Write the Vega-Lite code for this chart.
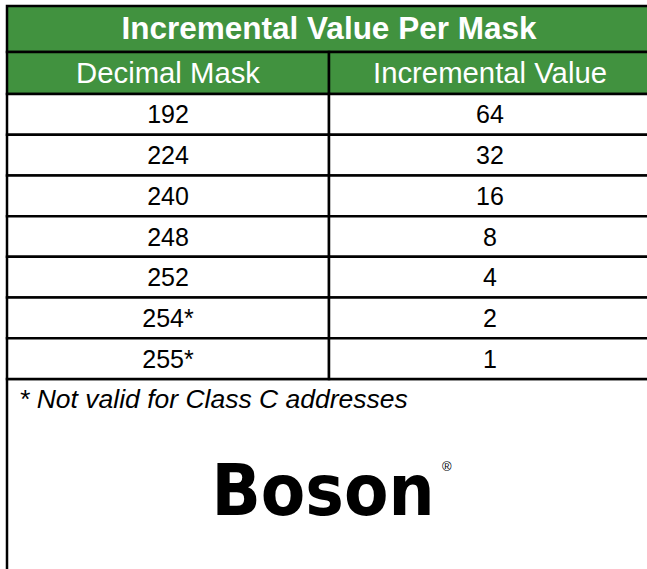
{
  "$schema": "https://vega.github.io/schema/vega-lite/v6.json",
  "width": 647,
  "height": 569,
  "autosize": "none",
  "padding": 0,
  "background": "white",
  "config": {"view": {"stroke": null}, "text": {"font": "Liberation Sans"}},
  "datasets": {
    "title": [{"sec": "title", "label": "Incremental Value Per Mask"}],
    "head": [
      {"sec": "head", "col": "Decimal Mask"},
      {"sec": "head", "col": "Incremental Value"}
    ],
    "rows": [
      {"Decimal Mask": "192", "Incremental Value": "64"},
      {"Decimal Mask": "224", "Incremental Value": "32"},
      {"Decimal Mask": "240", "Incremental Value": "16"},
      {"Decimal Mask": "248", "Incremental Value": "8"},
      {"Decimal Mask": "252", "Incremental Value": "4"},
      {"Decimal Mask": "254*", "Incremental Value": "2"},
      {"Decimal Mask": "255*", "Incremental Value": "1"}
    ],
    "note": [{"sec": "note", "label": "* Not valid for Class C addresses"}],
    "logo": [{"sec": "logo", "label": "Boson", "reg": "®"}]
  },
  "resolve": {"scale": {"x": "independent", "y": "independent"}},
  "layer": [
    {
      "data": {"name": "note"},
      "mark": {"type": "rect", "fill": "white", "stroke": "black", "strokeWidth": 2.5},
      "encoding": {
        "x": {"field": "sec", "type": "nominal", "axis": null, "scale": {"domain": ["note"], "range": [7, 651], "paddingInner": 0, "paddingOuter": 0}},
        "y": {"field": "sec", "type": "nominal", "axis": null, "scale": {"domain": ["note"], "range": [379, 760], "paddingInner": 0, "paddingOuter": 0}}
      }
    },
    {
      "data": {"name": "title"},
      "mark": {"type": "rect", "fill": "#41923f", "stroke": "black", "strokeWidth": 2.5},
      "encoding": {
        "x": {"field": "sec", "type": "nominal", "axis": null, "scale": {"domain": ["title"], "range": [7, 651], "paddingInner": 0, "paddingOuter": 0}},
        "y": {"field": "sec", "type": "nominal", "axis": null, "scale": {"domain": ["title"], "range": [6, 52], "paddingInner": 0, "paddingOuter": 0}}
      }
    },
    {
      "data": {"name": "title"},
      "mark": {"type": "text", "color": "white", "fontWeight": "bold", "fontSize": 31.5, "baseline": "middle", "align": "center", "dy": 1},
      "encoding": {
        "x": {"field": "sec", "type": "nominal", "axis": null, "scale": {"domain": ["title"], "range": [7, 651], "paddingInner": 0, "paddingOuter": 0}},
        "y": {"field": "sec", "type": "nominal", "axis": null, "scale": {"domain": ["title"], "range": [6, 52], "paddingInner": 0, "paddingOuter": 0}},
        "text": {"field": "label"}
      }
    },
    {
      "data": {"name": "head"},
      "mark": {"type": "rect", "fill": "#41923f", "stroke": "black", "strokeWidth": 2.5},
      "encoding": {
        "x": {"field": "col", "type": "nominal", "axis": null, "sort": null, "scale": {"domain": ["Decimal Mask", "Incremental Value"], "range": [7, 651], "paddingInner": 0, "paddingOuter": 0}},
        "y": {"field": "sec", "type": "nominal", "axis": null, "scale": {"domain": ["head"], "range": [52, 94], "paddingInner": 0, "paddingOuter": 0}}
      }
    },
    {
      "data": {"name": "head"},
      "mark": {"type": "text", "color": "white", "fontSize": 29.3, "baseline": "middle", "align": "center", "dy": 1},
      "encoding": {
        "x": {"field": "col", "type": "nominal", "axis": null, "sort": null, "scale": {"domain": ["Decimal Mask", "Incremental Value"], "range": [7, 651], "paddingInner": 0, "paddingOuter": 0}},
        "y": {"field": "sec", "type": "nominal", "axis": null, "scale": {"domain": ["head"], "range": [52, 94], "paddingInner": 0, "paddingOuter": 0}},
        "text": {"field": "col"}
      }
    },
    {
      "data": {"name": "rows"},
      "transform": [{"fold": ["Decimal Mask", "Incremental Value"], "as": ["col", "val"]}],
      "mark": {"type": "rect", "fill": "white", "stroke": "black", "strokeWidth": 2.5},
      "encoding": {
        "x": {"field": "col", "type": "nominal", "axis": null, "sort": null, "scale": {"domain": ["Decimal Mask", "Incremental Value"], "range": [7, 651], "paddingInner": 0, "paddingOuter": 0}},
        "y": {"field": "Decimal Mask", "type": "nominal", "axis": null, "sort": null, "scale": {"domain": ["192", "224", "240", "248", "252", "254*", "255*"], "range": [94, 379], "paddingInner": 0, "paddingOuter": 0}}
      }
    },
    {
      "data": {"name": "rows"},
      "transform": [{"fold": ["Decimal Mask", "Incremental Value"], "as": ["col", "val"]}],
      "mark": {"type": "text", "color": "black", "fontSize": 25, "baseline": "middle", "align": "center", "dy": 1},
      "encoding": {
        "x": {"field": "col", "type": "nominal", "axis": null, "sort": null, "scale": {"domain": ["Decimal Mask", "Incremental Value"], "range": [7, 651], "paddingInner": 0, "paddingOuter": 0}},
        "y": {"field": "Decimal Mask", "type": "nominal", "axis": null, "sort": null, "scale": {"domain": ["192", "224", "240", "248", "252", "254*", "255*"], "range": [94, 379], "paddingInner": 0, "paddingOuter": 0}},
        "text": {"field": "val"}
      }
    },
    {
      "data": {"name": "note"},
      "mark": {"type": "text", "color": "black", "fontSize": 26.5, "fontStyle": "italic", "baseline": "middle", "align": "left"},
      "encoding": {
        "x": {"field": "sec", "type": "nominal", "axis": null, "scale": {"domain": ["note"], "range": [6, 32], "paddingInner": 0, "paddingOuter": 0}},
        "y": {"field": "sec", "type": "nominal", "axis": null, "scale": {"domain": ["note"], "range": [380, 420], "paddingInner": 0, "paddingOuter": 0}},
        "text": {"field": "label"}
      }
    },
    {
      "data": {"name": "logo"},
      "mark": {"type": "text", "color": "black", "fontSize": 72, "fontWeight": "bold", "font": "DejaVu Sans Condensed, Liberation Sans", "baseline": "middle", "align": "center", "dx": -6},
      "encoding": {
        "x": {"field": "sec", "type": "nominal", "axis": null, "scale": {"domain": ["logo"], "range": [7, 651], "paddingInner": 0, "paddingOuter": 0}},
        "y": {"field": "sec", "type": "nominal", "axis": null, "scale": {"domain": ["logo"], "range": [423, 563], "paddingInner": 0, "paddingOuter": 0}},
        "text": {"field": "label"}
      }
    },
    {
      "data": {"name": "logo"},
      "mark": {"type": "text", "color": "black", "fontSize": 13, "baseline": "middle", "align": "left", "dx": 113, "dy": -26},
      "encoding": {
        "x": {"field": "sec", "type": "nominal", "axis": null, "scale": {"domain": ["logo"], "range": [7, 651], "paddingInner": 0, "paddingOuter": 0}},
        "y": {"field": "sec", "type": "nominal", "axis": null, "scale": {"domain": ["logo"], "range": [423, 563], "paddingInner": 0, "paddingOuter": 0}},
        "text": {"field": "reg"}
      }
    }
  ]
}
